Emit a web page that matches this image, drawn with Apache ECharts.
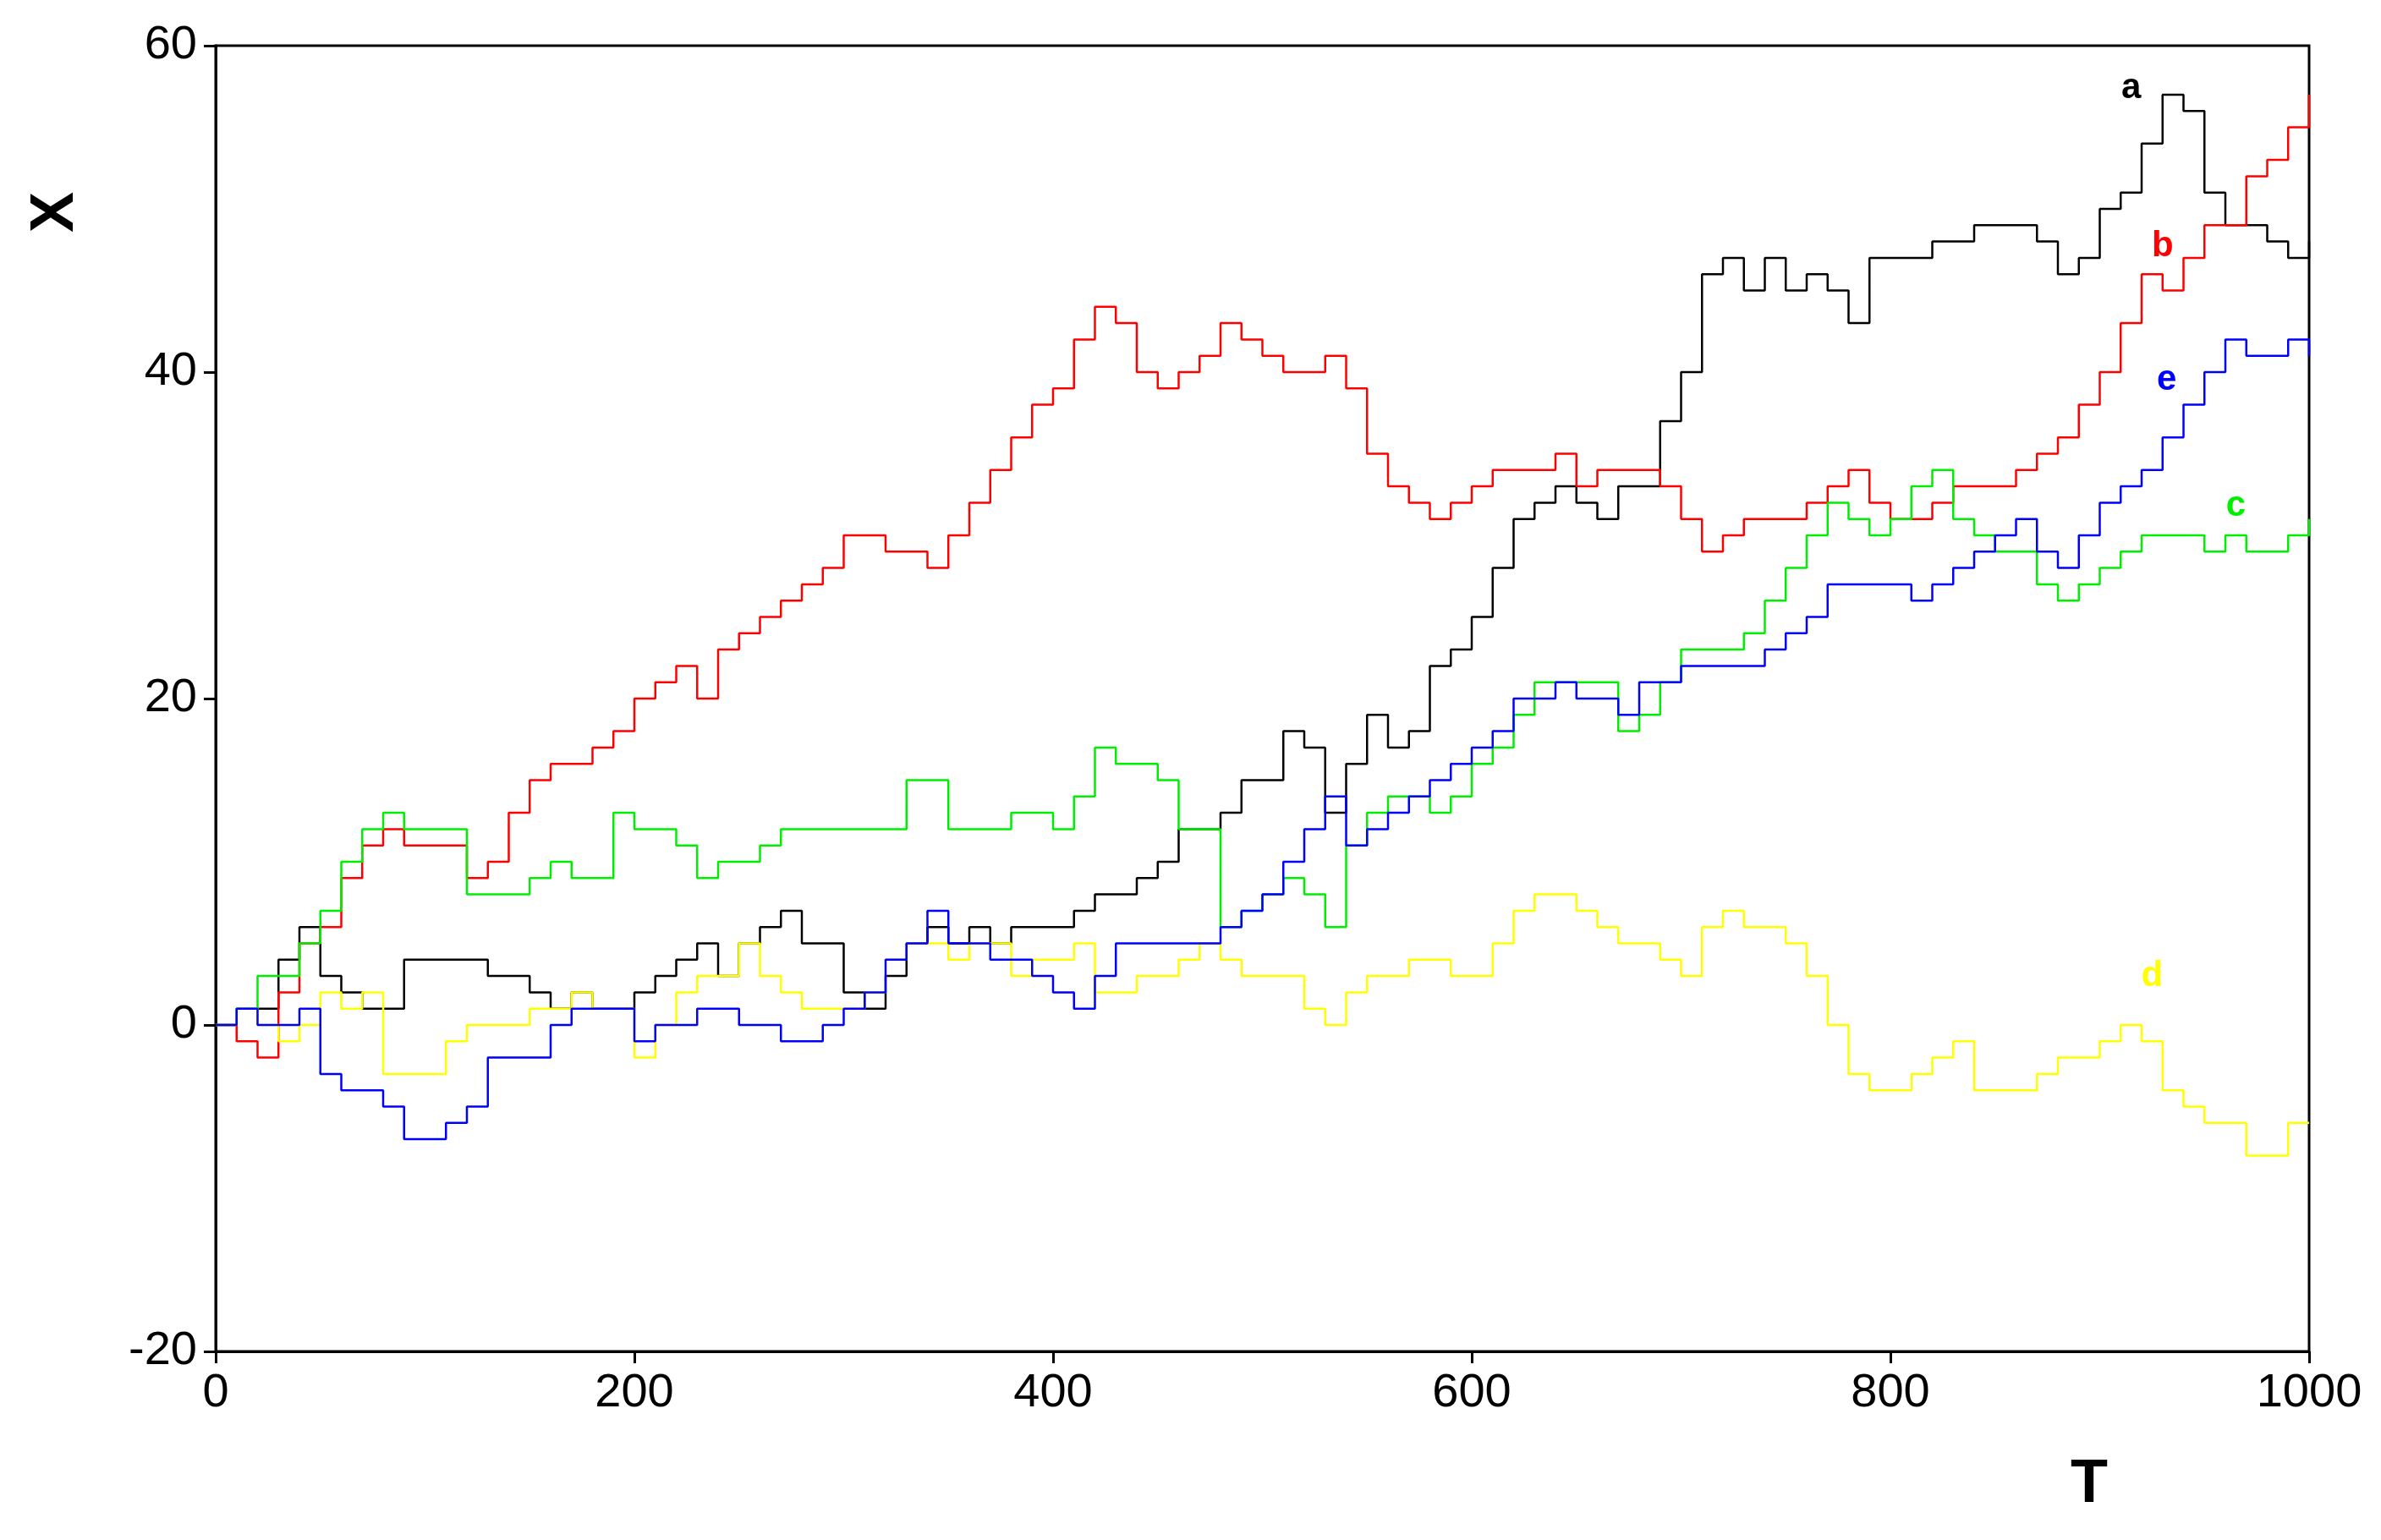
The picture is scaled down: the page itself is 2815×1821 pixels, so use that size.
<!DOCTYPE html>
<html><head><meta charset="utf-8">
<script src="https://cdn.jsdelivr.net/npm/echarts@6/dist/echarts.min.js"></script>
<style>html,body{margin:0;padding:0;background:#fff}#c{width:2815px;height:1821px}</style>
</head><body><div id="c"></div>
<script>
const T = [];
for (let i = 0; i <= 100; i++) T.push(i * 10);
const seriesA = [0,1,1,4,6,3,2,1,1,4,4,4,4,3,3,2,1,2,1,1,2,3,4,5,3,5,6,7,5,5,2,1,3,5,6,5,6,5,6,6,6,7,8,8,9,10,12,12,13,15,15,18,17,13,16,19,17,18,22,23,25,28,31,32,33,32,31,33,33,37,40,46,47,45,47,45,46,45,43,47,47,47,48,48,49,49,49,48,46,47,50,51,54,57,56,51,49,49,48,47,48];
const seriesB = [0,-1,-2,2,5,6,9,11,12,11,11,11,9,10,13,15,16,16,17,18,20,21,22,20,23,24,25,26,27,28,30,30,29,29,28,30,32,34,36,38,39,42,44,43,40,39,40,41,43,42,41,40,40,41,39,35,33,32,31,32,33,34,34,34,35,33,34,34,34,33,31,29,30,31,31,31,32,33,34,32,31,31,32,33,33,33,34,35,36,38,40,43,46,45,47,49,49,52,53,55,57];
const seriesC = [0,1,3,3,5,7,10,12,13,12,12,12,8,8,8,9,10,9,9,13,12,12,11,9,10,10,11,12,12,12,12,12,12,15,15,12,12,12,13,13,12,14,17,16,16,15,12,12,6,7,8,9,8,6,11,13,14,14,13,14,16,17,19,21,21,21,21,18,19,21,23,23,23,24,26,28,30,32,31,30,31,33,34,31,30,29,29,27,26,27,28,29,30,30,30,29,30,29,29,30,31];
const seriesD = [0,1,0,-1,0,2,1,2,-3,-3,-3,-1,0,0,0,1,1,2,1,1,-2,0,2,3,3,5,3,2,1,1,1,2,4,5,5,4,5,5,3,4,4,5,2,2,3,3,4,5,4,3,3,3,1,0,2,3,3,4,4,3,3,5,7,8,8,7,6,5,5,4,3,6,7,6,6,5,3,0,-3,-4,-4,-3,-2,-1,-4,-4,-4,-3,-2,-2,-1,0,-1,-4,-5,-6,-6,-8,-8,-6,-6];
const seriesE = [0,1,0,0,1,-3,-4,-4,-5,-7,-7,-6,-5,-2,-2,-2,0,1,1,1,-1,0,0,1,1,0,0,-1,-1,0,1,2,4,5,7,5,5,4,4,3,2,1,3,5,5,5,5,5,6,7,8,10,12,14,11,12,13,14,15,16,17,18,20,20,21,20,20,19,21,21,22,22,22,22,23,24,25,27,27,27,27,26,27,28,29,30,31,29,28,30,32,33,34,36,38,40,42,41,41,42,41];
const names = ['a','b','c','d','e'];
const colors = ['#000000','#ff0000','#00ee00','#ffff00','#0000ff'];
const labelT = [915, 930, 965, 925, 932];
const labelX = [57.4, 47.7, 31.8, 3, 39.5];
const all = [seriesA, seriesB, seriesC, seriesD, seriesE];

const chart = echarts.init(document.getElementById('c'));
chart.setOption({
  animation:false,
  backgroundColor:'#fff',
  grid:{left:255,right:85,top:54,bottom:223,show:true,borderColor:'#000',borderWidth:3},
  xAxis:{type:'value',min:0,max:1000,interval:200,
    axisLine:{onZero:false,lineStyle:{color:'#000',width:3}},
    axisTick:{show:true,length:14,lineStyle:{color:'#000',width:3}},
    axisLabel:{color:'#000',fontSize:56,fontFamily:'Liberation Sans, Arial',margin:22,formatter:v=>String(v)},
    splitLine:{show:false}},
  yAxis:{type:'value',min:-20,max:60,interval:20,
    axisLine:{show:true,onZero:false,lineStyle:{color:'#000',width:3}},
    axisTick:{show:true,length:14,lineStyle:{color:'#000',width:3}},
    axisLabel:{color:'#000',fontSize:56,fontFamily:'Liberation Sans, Arial',margin:22,formatter:v=>String(v)},
    splitLine:{show:false}},
  graphic:[
    {type:'text',left:2448,top:1720,style:{text:'T',font:'bold 72px Liberation Sans, Arial',fill:'#000'}},
    {type:'text',x:30,y:275,rotation:Math.PI/2,style:{text:'X',font:'bold 72px Liberation Sans, Arial',fill:'#000'}}
  ],
  series: all.map((s,i)=>({
    name:names[i],type:'line',step:'end',showSymbol:false,
    data:T.map((t,j)=>[t,s[j]]),
    lineStyle:{color:colors[i],width:2.5},itemStyle:{color:colors[i]},
    markPoint:{symbol:'circle',symbolSize:0,
      data:[{coord:[labelT[i],labelX[i]],value:names[i]}],
      label:{show:true,formatter:names[i],color:colors[i],fontSize:42,fontWeight:'bold',fontFamily:'Liberation Sans, Arial'}}
  }))
});
</script></body></html>
